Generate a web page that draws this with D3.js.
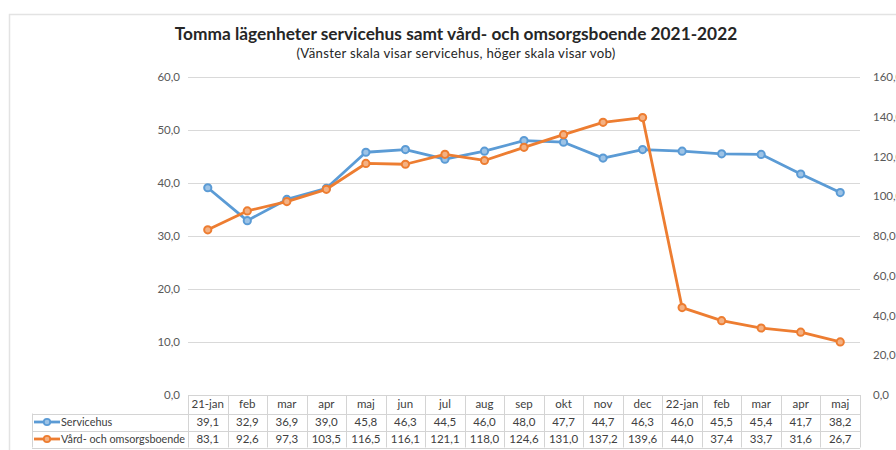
<!DOCTYPE html>
<html>
<head>
<meta charset="utf-8">
<script src="https://cdn.jsdelivr.net/npm/d3@7"></script>
<style>
  html, body { margin: 0; padding: 0; background: #fff; }
  svg { display: block; font-family: Lato, "Open Sans", sans-serif; }
</style>
</head>
<body>
<svg id="chart" width="896" height="450"></svg>
<script>
const monthLabels = ["21-jan","feb","mar","apr","maj","jun","jul","aug","sep","okt","nov","dec","22-jan","feb","mar","apr","maj"];
const servicehus = [39.1,32.9,36.9,39.0,45.8,46.3,44.5,46.0,48.0,47.7,44.7,46.3,46.0,45.5,45.4,41.7,38.2];
const vob = [83.1,92.6,97.3,103.5,116.5,116.1,121.1,118.0,124.6,131.0,137.2,139.6,44.0,37.4,33.7,31.6,26.7];
const leftTicks = [0,10,20,30,40,50,60];
const rightTicks = [0,20,40,60,80,100,120,140,160];
const seriesNames = ["Servicehus","Vård- och omsorgsboende"];
const seriesColors = ["#5B9BD5","#ED7D31"];
const markerFills = ["#9DC3E6","#F4B183"];

const svg = d3.select("#chart");
const fmt = v => d3.format(".1f")(v).replace(".", ",");
const smallFont = "Lato, 'Open Sans', sans-serif";

const plotL = 188, plotR = 860, plotT = 77, plotB = 395;
const idx = d3.range(monthLabels.length);
const x = d3.scaleBand().domain(idx).range([plotL, plotR]);
const yL = d3.scaleLinear().domain([0, 60]).range([plotB, plotT]);
const yR = d3.scaleLinear().domain([0, 160]).range([plotB, plotT]);

// chart border
svg.append("rect").attr("x", 9.5).attr("y", 14.5).attr("width", 900).attr("height", 460)
  .attr("fill", "none").attr("stroke", "#e3e3e3").attr("stroke-width", 1.5);

// title
svg.append("text").attr("x", 456).attr("y", 40).attr("text-anchor", "middle")
  .attr("font-family", smallFont)
  .attr("font-weight", "bold").attr("font-size", 17.3).attr("fill", "#262626")
  .text("Tomma lägenheter servicehus samt vård- och omsorgsboende 2021-2022");
svg.append("text").attr("x", 456).attr("y", 58).attr("text-anchor", "middle")
  .attr("font-family", smallFont).attr("letter-spacing", 0.3)
  .attr("font-size", 13.2).attr("fill", "#262626")
  .text("(Vänster skala visar servicehus, höger skala visar vob)");

// gridlines
svg.append("g").selectAll("line").data(leftTicks.filter(d => d > 0)).join("line")
  .attr("x1", plotL).attr("x2", plotR)
  .attr("y1", d => Math.round(yL(d)) + 0.5).attr("y2", d => Math.round(yL(d)) + 0.5)
  .attr("stroke", "#d9d9d9").attr("stroke-width", 1);

// left axis
const axL = svg.append("g").attr("transform", `translate(${plotL - 8},0)`)
  .call(d3.axisLeft(yL).tickValues(leftTicks).tickFormat(fmt).tickSize(0).tickPadding(0));
axL.select(".domain").remove();
axL.selectAll("text").attr("font-size", 11.5).attr("fill", "#595959")
  .attr("font-family", smallFont);

// right axis
const axR = svg.append("g").attr("transform", `translate(${plotR + 13},0)`)
  .call(d3.axisRight(yR).tickValues(rightTicks).tickFormat(fmt).tickSize(0).tickPadding(0));
axR.select(".domain").remove();
axR.selectAll("text").attr("font-size", 11.5).attr("fill", "#595959")
  .attr("font-family", smallFont);

// lines
const series = [
  { name: seriesNames[0], values: servicehus, y: yL, color: seriesColors[0], fill: markerFills[0] },
  { name: seriesNames[1], values: vob, y: yR, color: seriesColors[1], fill: markerFills[1] }
];
const cx = i => x(i) + x.bandwidth() / 2;
series.forEach(s => {
  const line = d3.line().x((d, i) => cx(i)).y(d => s.y(d));
  svg.append("path").datum(s.values).attr("d", line)
    .attr("fill", "none").attr("stroke", s.color).attr("stroke-width", 2.8)
    .attr("stroke-linejoin", "round");
  svg.append("g").selectAll("circle").data(s.values).join("circle")
    .attr("cx", (d, i) => cx(i)).attr("cy", d => s.y(d)).attr("r", 3.6)
    .attr("fill", s.fill).attr("stroke", s.color).attr("stroke-width", 2);
});

// data table
const tableL = 32;
const rowY = [395, 413.5, 430.5, 447.5];
const tg = svg.append("g").attr("stroke", "#d4d4d4").attr("stroke-width", 1).attr("fill", "none");
tg.append("line").attr("x1", plotL).attr("x2", plotR).attr("y1", rowY[0] + 0.5).attr("y2", rowY[0] + 0.5);
[rowY[1], rowY[2], rowY[3]].forEach(yy => {
  tg.append("line").attr("x1", tableL).attr("x2", plotR).attr("y1", Math.round(yy) + 0.5).attr("y2", Math.round(yy) + 0.5);
});
tg.append("line").attr("x1", tableL + 0.5).attr("x2", tableL + 0.5).attr("y1", rowY[1]).attr("y2", rowY[3]);
idx.concat([monthLabels.length]).forEach(i => {
  const xx = Math.round(i < monthLabels.length ? x(i) : plotR) + 0.5;
  tg.append("line").attr("x1", xx).attr("x2", xx).attr("y1", rowY[0]).attr("y2", rowY[3]);
});

const tt = svg.append("g").attr("font-size", 11.5).attr("fill", "#404040")
  .attr("font-family", smallFont).attr("text-anchor", "middle");
tt.selectAll("text.hdr").data(monthLabels).join("text").attr("class", "hdr")
  .attr("x", (d, i) => cx(i)).attr("y", (rowY[0] + rowY[1]) / 2).attr("dy", "0.35em").text(d => d);
series.forEach((s, k) => {
  const yc = (rowY[k + 1] + rowY[k + 2]) / 2;
  tt.append("g").selectAll("text").data(s.values).join("text")
    .attr("x", (d, i) => cx(i)).attr("y", yc).attr("dy", "0.35em").text(d => fmt(d));
  svg.append("line").attr("x1", 34).attr("x2", 60).attr("y1", yc).attr("y2", yc)
    .attr("stroke", s.color).attr("stroke-width", 2.8);
  svg.append("circle").attr("cx", 47).attr("cy", yc).attr("r", 3.2)
    .attr("fill", s.fill).attr("stroke", s.color).attr("stroke-width", 1.8);
  svg.append("text").attr("x", 61).attr("y", yc).attr("dy", "0.35em")
    .attr("font-size", 10.8).attr("fill", "#404040").attr("font-family", smallFont)
    .text(s.name);
});
</script>
</body>
</html>
